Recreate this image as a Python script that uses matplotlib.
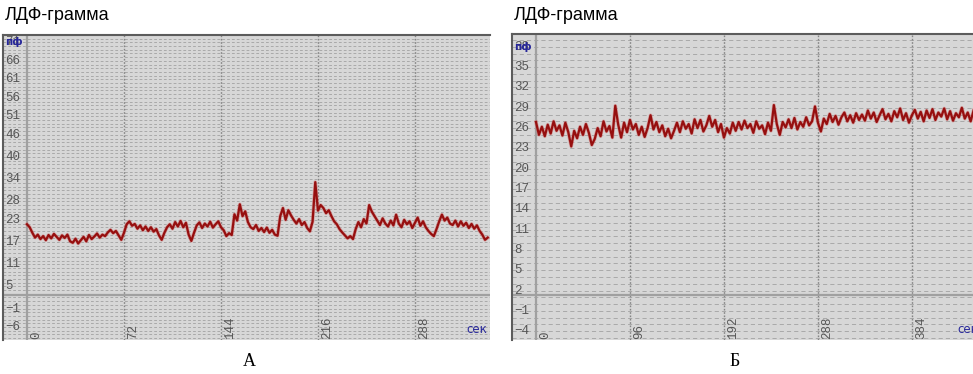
import numpy as np
import matplotlib.pyplot as plt
import matplotlib.transforms as mtransforms

plt.rcParams['lines.scale_dashes'] = False

title = "ЛДФ-грамма"

# panel A: perfusion (пф), one sample every 2 s
a_values = [21.8, 21.0, 19.5,
            18.2, 19.0, 17.8, 18.6, 17.5, 18.9, 18.0, 19.2, 18.4, 17.6, 18.8, 18.1, 19.0,
            17.2, 16.8, 17.9, 16.6, 17.5, 18.4, 17.2,
            18.9, 17.8, 18.5, 19.3, 18.2, 19.0, 18.6, 19.6,
            20.3, 19.4, 20.0, 18.8, 17.6,
            19.5, 21.8, 22.6, 21.4,
            21.9, 20.6, 21.5, 20.2, 21.2, 20.0, 21.0, 19.8, 20.5,
            18.8, 17.6, 19.5, 21.0,
            21.8, 20.6, 22.4, 21.2, 22.7, 21.0, 22.2,
            19.0, 17.3, 19.5,
            21.5, 22.3, 20.8, 22.0, 21.2, 22.5, 20.9, 21.8, 22.6, 21.0, 20.2,
            18.6, 19.4, 18.9,
            24.5, 22.8, 27.2, 24.0, 25.3,
            22.4, 21.0, 20.5, 21.6, 20.0, 20.8, 19.7, 20.9, 19.5,
            20.3, 19.0, 18.7,
            24.0, 26.2, 23.0, 25.6, 24.2,
            23.0, 22.0, 23.2, 21.6, 22.4, 20.8, 19.9,
            22.5, 33.2, 25.5, 27.0,
            26.2, 24.8, 25.6, 24.0, 22.6, 21.8,
            20.5, 19.6, 18.8, 18.0, 18.6, 17.8,
            20.5, 22.4, 21.0, 23.2, 22.0,
            27.0, 25.2, 24.0,
            22.8, 21.6, 23.4, 22.0, 21.2, 22.8, 21.5, 24.4, 22.0, 21.0, 23.0, 21.8, 22.6,
            20.8, 22.2, 23.6, 21.4, 22.6, 21.0,
            20.0, 19.2, 18.6, 20.5, 22.6,
            24.4, 22.8, 23.6, 22.0,
            21.6, 22.8, 21.2, 22.6, 21.4, 22.2, 20.8, 21.9, 20.6, 21.5, 20.0,
            19.0, 17.6, 18.2]
a_step = 2.0
a_yticks = [-6, -1, 5, 11, 17, 23, 28, 34, 40, 46, 51, 56, 61, 66, 71]
a_xticks = [0, 72, 144, 216, 288]

# panel Б: one sample every 3 s
b_values = [26.9, 25.0, 26.2, 24.8,
            26.5, 25.2, 27.0, 25.6, 26.4, 24.9, 26.8, 25.4,
            23.3, 25.6, 24.5,
            26.2, 25.0, 26.6, 25.3,
            23.5, 24.4,
            26.0, 24.8, 27.0, 25.5, 26.3, 24.6,
            29.3, 26.5, 24.6,
            26.8, 25.4, 27.2, 25.8, 26.6, 25.0, 26.2, 24.7, 26.0,
            27.9, 25.8, 26.9,
            25.4, 26.4, 24.8, 25.9, 24.5, 25.6,
            26.8, 25.4, 27.0, 25.9, 26.6, 25.2, 27.3, 26.0,
            27.2, 25.5, 26.4,
            27.8, 26.2,
            27.2, 25.4, 26.6, 24.6, 26.0, 25.2, 26.8,
            25.6, 26.9, 25.8, 27.1, 26.0,
            26.6, 25.3, 27.0, 25.9, 26.4, 25.1, 26.8, 25.6,
            29.4, 26.6, 25.0, 26.9,
            26.1, 27.3, 26.0, 27.5, 25.8, 26.9, 26.2, 27.6, 26.4, 27.0,
            29.2, 26.8, 25.5,
            27.4, 26.6, 28.1, 26.9, 27.8, 26.5, 27.6, 28.3, 27.0, 27.9, 26.8, 28.2, 27.2,
            28.0, 27.1, 28.6, 27.4, 28.3, 26.9, 27.9, 28.8, 27.3, 28.1, 27.0, 28.5, 27.6, 28.9, 27.2,
            28.2, 26.8, 27.9, 28.7, 27.4, 28.4, 27.0, 28.6, 27.5, 28.8, 27.2, 28.3, 27.7, 28.9, 27.3,
            28.5, 27.1, 28.2, 27.6, 29.0, 27.4, 28.3, 27.0, 28.6]
b_step = 3.0
b_yticks = [-4, -1, 2, 5, 8, 11, 14, 17, 20, 23, 26, 29, 32, 35, 38]
b_xticks = [0, 96, 192, 288, 384]

W, H = 973, 374
fig = plt.figure(figsize=(W / 100, H / 100), dpi=100)

tick_font = dict(family='Liberation Mono', fontsize=9, color='#555555')
blue = '#26269a'


def panel(box, values, step, yticks, xticks, xlim, ylim, base, dash, sec_x):
    x0, y0, x1, y1 = box
    ax = fig.add_axes([x0 / W, 1 - y1 / H, (x1 - x0) / W, (y1 - y0) / H])
    ax.set_facecolor('#d7d7d7')
    ax.set_xlim(*xlim)
    ax.set_ylim(*ylim)
    ax.set_xticks([])
    ax.set_yticks([])
    for s in ['right', 'bottom']:
        ax.spines[s].set_visible(False)
    for s in ['top', 'left']:
        ax.spines[s].set_color('#5c5c5c')
        ax.spines[s].set_linewidth(1.5)

    # grid: dense dashed rows, dotted columns at the time ticks
    for y in np.arange(np.ceil(ylim[0]), ylim[1], 1.0):
        ax.axhline(y, color='#a2a2a2', lw=0.6, ls=(0, dash), zorder=1)
    for t in xticks[1:]:
        ax.axvline(t, color='#858585', lw=1.0, ls=(0, (1.2, 1.2)), zorder=1)
    ax.axvline(0, color='#a0a0a0', lw=1.6, zorder=1)
    ax.axhline(base, color='#a0a0a0', lw=1.6, zorder=1)

    t = np.arange(len(values)) * step
    ax.plot(t, values, color='#d06a6a', lw=2.6, alpha=0.5, zorder=2)
    ax.plot(t, values, color='#960f0f', lw=1.6, zorder=3)

    trans = mtransforms.blended_transform_factory(ax.transAxes, ax.transData)
    for v in yticks:
        ax.text(0.004, v, str(v).replace('-', '\u2212'), transform=trans,
                ha='left', va='center', zorder=4, **tick_font)
    ax.text(0.004, yticks[-1], 'пф', transform=trans, ha='left', va='center',
            fontsize=7.5, fontweight='bold', color=blue, zorder=5)

    off = mtransforms.offset_copy(ax.transData, fig=fig, x=3, y=1, units='dots')
    for t in xticks:
        ax.text(t, ylim[0], str(t), transform=off, rotation=90,
                ha='left', va='bottom', zorder=4, **tick_font)
    ax.text(sec_x, 0.012, 'сек', transform=ax.transAxes, ha='left', va='bottom',
            fontsize=8.5, color=blue, zorder=5, clip_on=False)
    return ax


panel((3, 35, 490, 340), a_values, a_step, a_yticks, a_xticks,
      (-17.8, 343.7), (-9.5, 73.0), 2.7, (2.0, 1.5), 0.951)
panel((512, 34, 973, 340), b_values, b_step, b_yticks, b_xticks,
      (-24.5, 446.4), (-5.3, 39.9), 1.3, (3.0, 2.2), 0.967)

fig.text(5 / W, 1 - 16 / H, title, ha='left', va='center', fontsize=13,
         family='Liberation Sans')
fig.text(514 / W, 1 - 16 / H, title, ha='left', va='center', fontsize=13,
         family='Liberation Sans')
fig.text(249 / W, 1 - 361 / H, 'А', ha='center', va='center', fontsize=13,
         family='Liberation Serif')
fig.text(735 / W, 1 - 361 / H, 'Б', ha='center', va='center', fontsize=13,
         family='Liberation Serif')

fig.savefig('out.png', dpi=100)
